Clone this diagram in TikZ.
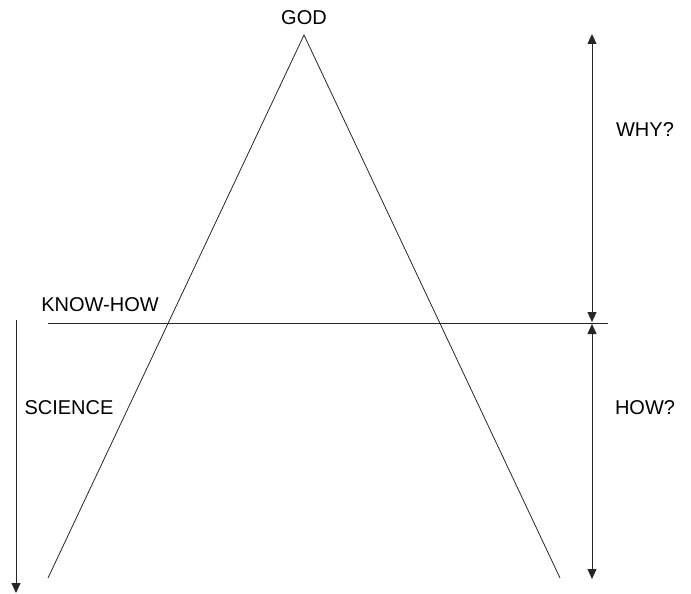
\documentclass[tikz,border=0pt]{standalone}
\usepackage{fontspec}
\setmainfont{Liberation Sans}
\usetikzlibrary{arrows.meta}
\begin{document}
\begin{tikzpicture}[x=1pt,y=-1pt,
  lbl/.style={font=\fontsize{20}{22}\selectfont, inner sep=0pt},
  ln/.style={line width=0.8pt, draw=black!85},
  tip/.tip={Triangle[length=10pt,width=9pt]},
  arr/.style={line width=0.8pt, draw=black!85, -tip},
  darr/.style={line width=0.8pt, draw=black!85, tip-tip}]
\useasboundingbox (0,0) rectangle (691,594);
\coordinate (apex) at (304,35);
\coordinate (bl) at (48,578);
\coordinate (br) at (560,578);
\coordinate (hl) at (48,323);
\coordinate (hr) at (608,323);
\coordinate (sa) at (16,320);
\coordinate (sb) at (16,593);
\coordinate (wt) at (592,34);
\coordinate (wm) at (592,322);
\coordinate (hm) at (592,324);
\coordinate (hb) at (592,579);
\draw[ln] (bl) -- (apex) -- (br);
\draw[ln] (hl) -- (hr);
\draw[arr] (sa) -- (sb);
\draw[darr] (wt) -- (wm);
\draw[darr] (hm) -- (hb);
\node[lbl] (god) at (304,18) {GOD};
\node[lbl] (kh) at (100,305) {KNOW-HOW};
\node[lbl] (sci) at (69,408) {SCIENCE};
\node[lbl] (why) at (645,130) {WHY?};
\node[lbl] (how) at (645,408) {HOW?};
\end{tikzpicture}
\end{document}
